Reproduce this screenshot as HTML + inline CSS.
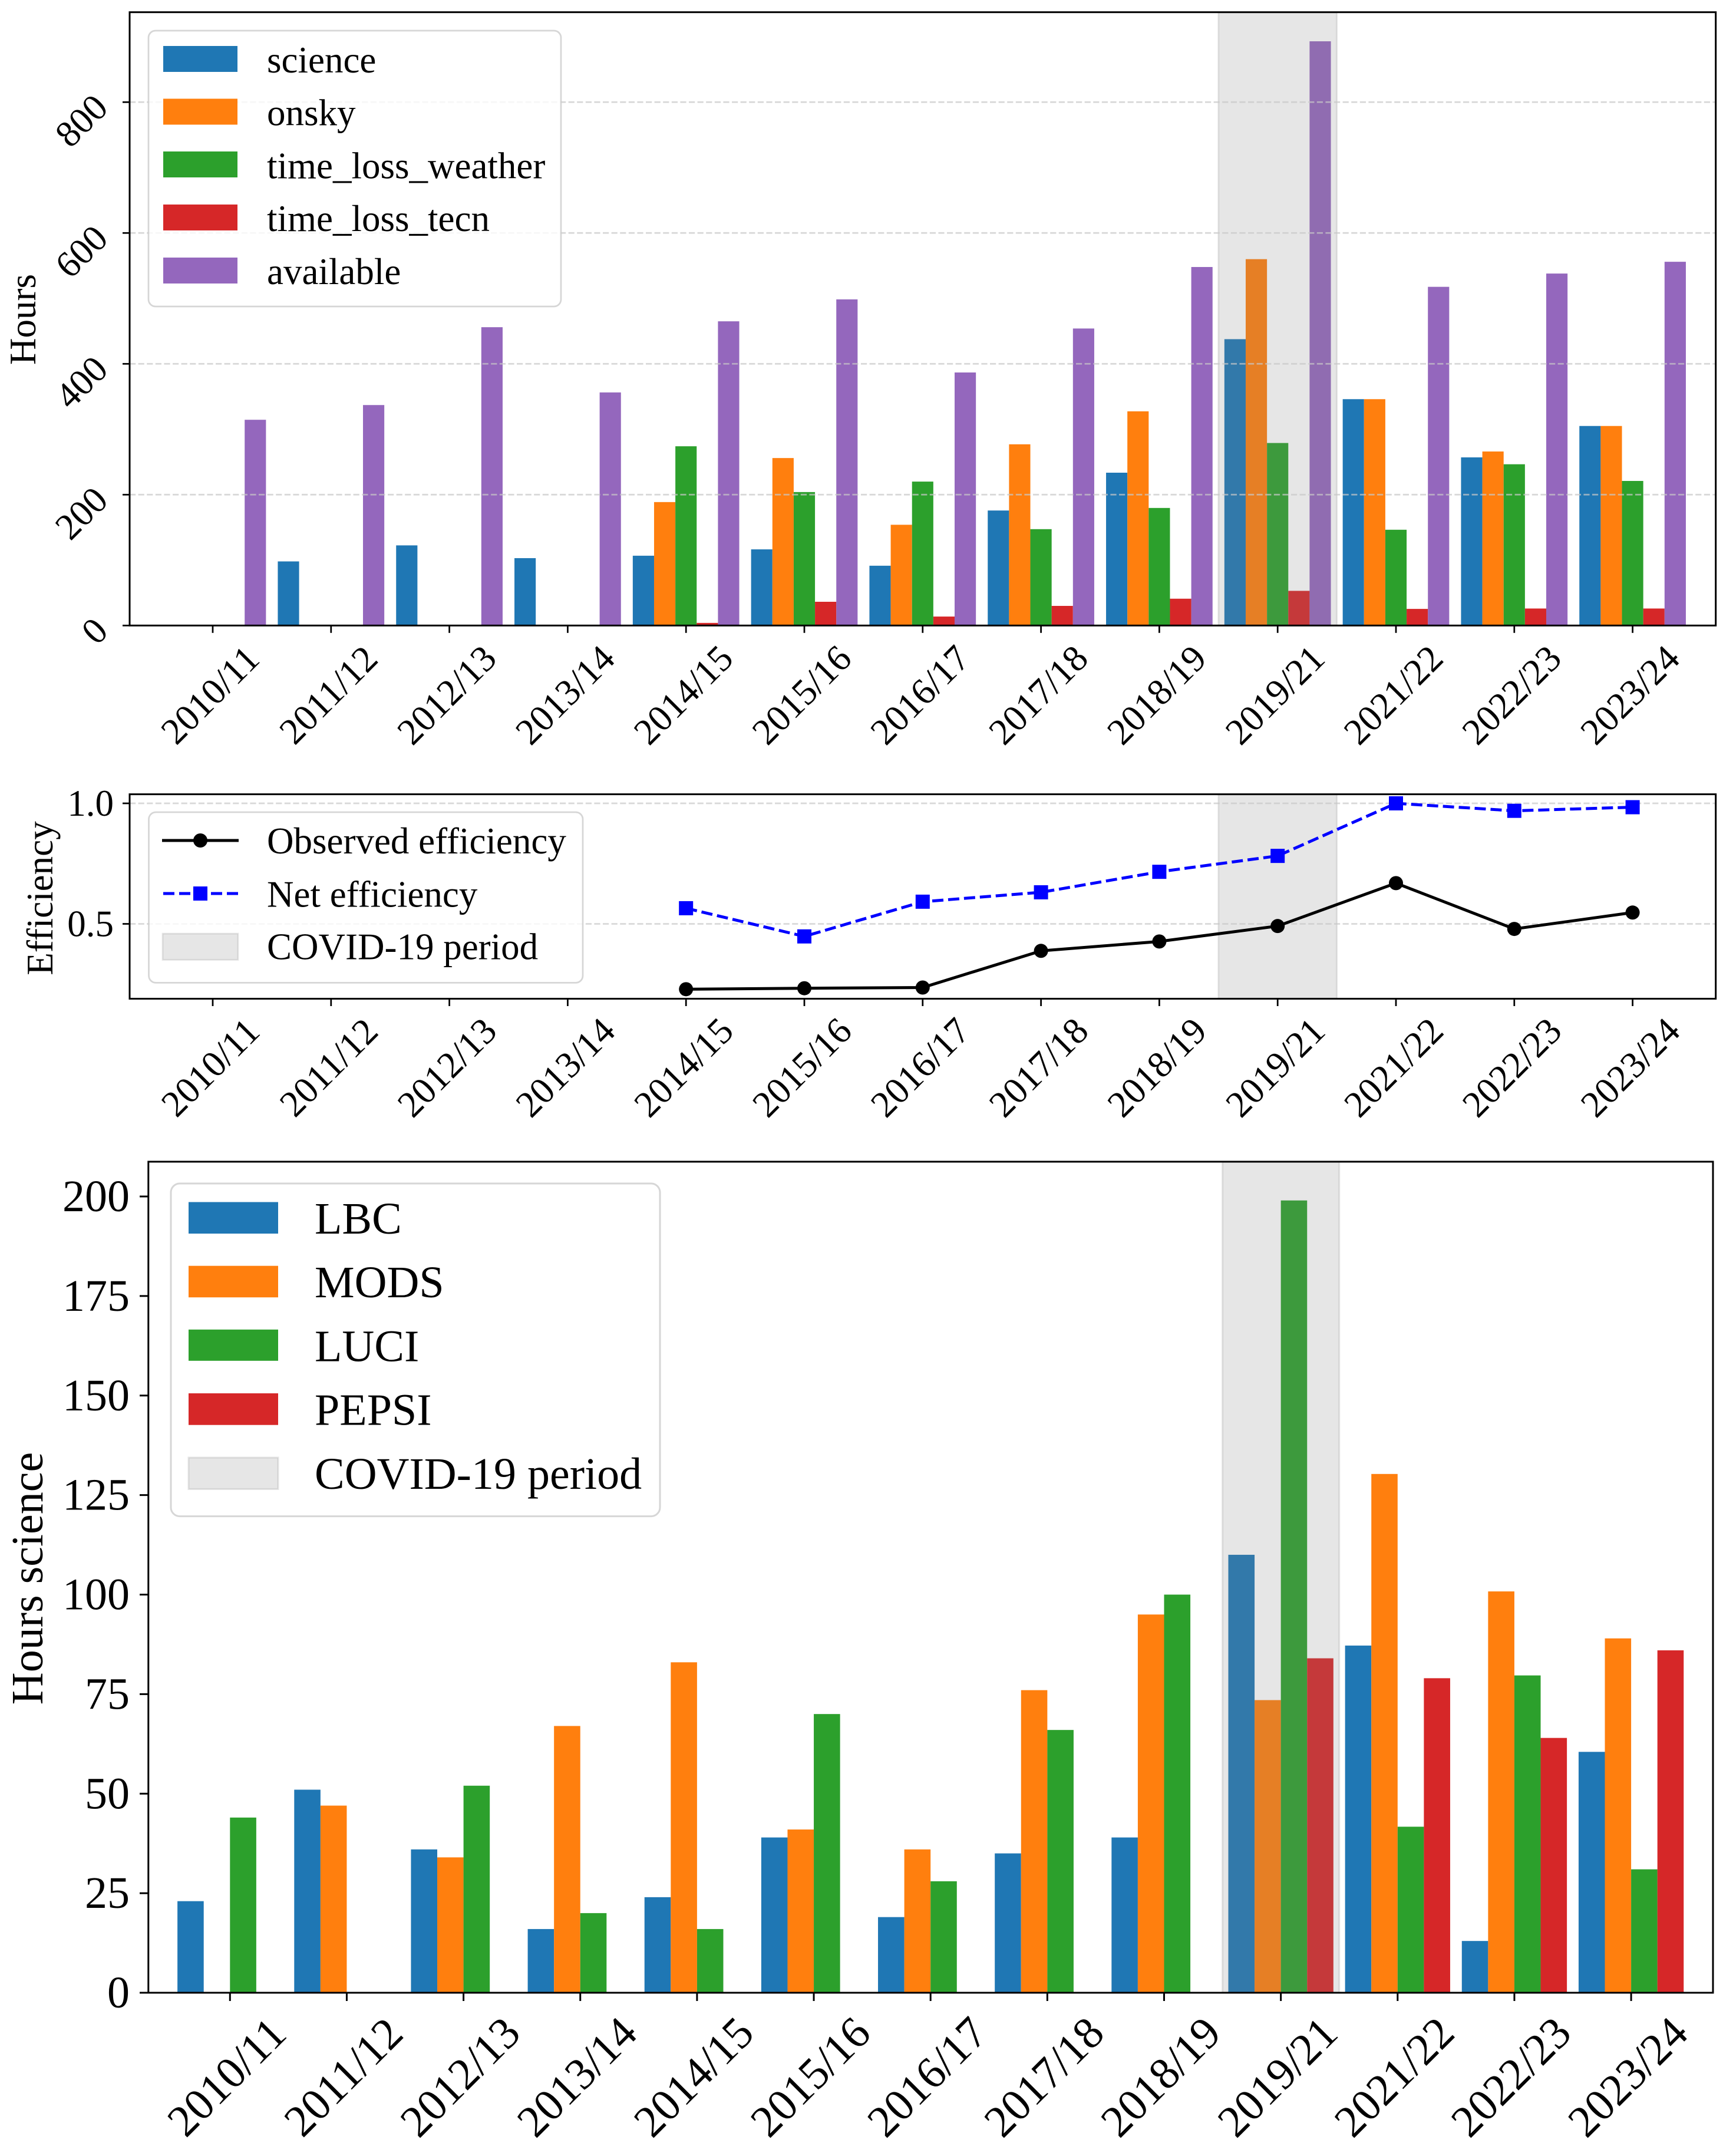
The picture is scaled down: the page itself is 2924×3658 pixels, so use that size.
<!DOCTYPE html>
<html lang="en">
<head>
<meta charset="utf-8">
<title>Telescope hours and efficiency per semester</title>
<style>
html,body{margin:0;padding:0;background:#fff;}
svg{display:block;}
text{font-family:"Liberation Serif",serif;fill:#000;}
.f63{font-size:63px;}
.f76{font-size:76px;}
</style>
</head>
<body>
<svg id="figure" xmlns="http://www.w3.org/2000/svg" width="2924" height="3658" viewBox="0 0 2924 3658">
  <rect x="0" y="0" width="2924" height="3658" fill="#fff"/>

  <!-- PANEL 1 -->
  <g>
    <g id="p1-bars"></g>
    <g id="p1-band"></g>
    <g id="p1-grid"></g>
    <rect x="220" y="20.7" width="2691.7" height="1040.6" fill="none" stroke="#000" stroke-width="3"/>
    <g id="p1-axes"></g>
    <text class="f63" transform="translate(60,542) rotate(-90)" text-anchor="middle">Hours</text>
    <g>
      <rect x="252" y="52" width="700" height="468" rx="12" ry="12" fill="#fff" fill-opacity="0.8" stroke="#ccc" stroke-opacity="0.8" stroke-width="2.75"/>
      <rect x="277" y="78" width="126" height="44" fill="#1f77b4"/>
      <text class="f63" x="453" y="123">science</text>
      <rect x="277" y="167.5" width="126" height="44" fill="#ff7f0e"/>
      <text class="f63" x="453" y="212.7">onsky</text>
      <rect x="277" y="257" width="126" height="44" fill="#2ca02c"/>
      <text class="f63" x="453" y="302.4">time_loss_weather</text>
      <rect x="277" y="347" width="126" height="44" fill="#d62728"/>
      <text class="f63" x="453" y="392.1">time_loss_tecn</text>
      <rect x="277" y="437" width="126" height="44" fill="#9467bd"/>
      <text class="f63" x="453" y="481.8">available</text>
    </g>
  </g>

  <!-- PANEL 2 -->
  <g>
    <g id="p2-band"></g>
    <g id="p2-grid"></g>
    <g id="p2-lines"></g>
    <rect x="220" y="1347.6" width="2691.7" height="346.9" fill="none" stroke="#000" stroke-width="3"/>
    <g id="p2-axes"></g>
    <text class="f63" transform="translate(89,1524) rotate(-90)" text-anchor="middle">Efficiency</text>
    <g>
      <rect x="252.5" y="1378" width="736.5" height="289.4" rx="12" ry="12" fill="#fff" fill-opacity="0.8" stroke="#ccc" stroke-opacity="0.8" stroke-width="2.75"/>
      <line x1="275" y1="1426" x2="405" y2="1426" stroke="#000" stroke-width="5"/>
      <circle cx="340" cy="1426" r="12" fill="#000"/>
      <text class="f63" x="453" y="1448">Observed efficiency</text>
      <line x1="277" y1="1516" x2="404" y2="1516" stroke="#0000ff" stroke-width="5" stroke-dasharray="19 8"/>
      <rect x="328" y="1504" width="24" height="24" fill="#0000ff"/>
      <text class="f63" x="453" y="1538.5">Net efficiency</text>
      <rect x="276" y="1584" width="128" height="44.5" fill="#808080" fill-opacity="0.2" stroke="#808080" stroke-opacity="0.2" stroke-width="2.75"/>
      <text class="f63" x="453" y="1627.5">COVID-19 period</text>
    </g>
  </g>

  <!-- PANEL 3 -->
  <g>
    <g id="p3-bars"></g>
    <g id="p3-band"></g>
    <rect x="251.8" y="1971" width="2655.2" height="1410" fill="none" stroke="#000" stroke-width="3"/>
    <g id="p3-axes"></g>
    <text class="f76" transform="translate(72,2678) rotate(-90)" text-anchor="middle">Hours science</text>
    <g>
      <rect x="290" y="2008" width="830" height="564.6" rx="15" ry="15" fill="#fff" fill-opacity="0.8" stroke="#ccc" stroke-opacity="0.8" stroke-width="3"/>
      <rect x="320" y="2039.5" width="152" height="53.5" fill="#1f77b4"/>
      <text class="f76" x="534" y="2093">LBC</text>
      <rect x="320" y="2147.7" width="152" height="53.5" fill="#ff7f0e"/>
      <text class="f76" x="534" y="2201">MODS</text>
      <rect x="320" y="2255.8" width="152" height="53" fill="#2ca02c"/>
      <text class="f76" x="534" y="2309.3">LUCI</text>
      <rect x="320" y="2364" width="152" height="53.7" fill="#d62728"/>
      <text class="f76" x="534" y="2417.6">PEPSI</text>
      <rect x="320" y="2473" width="152" height="53.5" fill="#808080" fill-opacity="0.2" stroke="#808080" stroke-opacity="0.2" stroke-width="3"/>
      <text class="f76" x="534" y="2526">COVID-19 period</text>
    </g>
  </g>
</svg>

<script>
const categories = ["2010/11","2011/12","2012/13","2013/14","2014/15","2015/16","2016/17","2017/18","2018/19","2019/21","2021/22","2022/23","2023/24"];
const covidCategory = "2019/21";

const science         = [0, 98, 122.5, 103, 106.7, 116.4, 91.4, 175.8, 233.6, 437.7, 346, 257, 305];
const onsky           = [0, 0, 0, 0, 188.7, 256, 154, 277, 327.4, 560, 346, 266, 305];
const timeLossWeather = [0, 0, 0, 0, 274, 204, 220, 147.3, 179.7, 279, 146.4, 246.5, 221];
const timeLossTecn    = [0, 0, 0, 0, 4, 36.3, 13.7, 30, 41, 53, 25.4, 26, 26];
const available       = [314.5, 337, 456, 356.3, 465, 498.5, 386.8, 454, 548, 893, 517.7, 538, 556];
const hoursTicks      = [0, 200, 400, 600, 800];

const observedEfficiency = [null, null, null, null, 0.229, 0.233, 0.236, 0.388, 0.427, 0.491, 0.669, 0.479, 0.547];
const netEfficiency      = [null, null, null, null, 0.565, 0.448, 0.592, 0.631, 0.716, 0.782, 1.0, 0.969, 0.984];
const efficiencyTicks    = ["0.5", "1.0"];

const lbc   = [23, 51, 36, 16, 24, 39, 19, 35, 39, 110, 87.2, 13, 60.5];
const mods  = [0, 47, 34, 67, 83, 41, 36, 76, 95, 73.5, 130.3, 100.8, 89];
const luci  = [44, 0, 52, 20, 16, 70, 28, 66, 100, 199, 41.7, 79.7, 31];
const pepsi = [0, 0, 0, 0, 0, 0, 0, 0, 0, 84, 79, 64, 86];
const scienceTicks = [0, 25, 50, 75, 100, 125, 150, 175, 200];

const NS = "http://www.w3.org/2000/svg";
function mk(tag, attrs, parent) {
  const el = document.createElementNS(NS, tag);
  for (const k in attrs) el.setAttribute(k, attrs[k]);
  parent.appendChild(el);
  return el;
}
const $ = id => document.getElementById(id);
const slug = s => s.replace("/", "-");

/* axis functions */
const x1 = i => 361 + 200.8 * i;
const y1 = v => 1061.3 - 1.11 * v;
const x2 = i => 361 + 200.8 * i;
const y2 = v => 1363 + (1 - v) * 409;
const x3 = i => 390.3 + 198.15 * i;
const y3 = v => 3381 - 6.755 * v;

const tab = {blue:"#1f77b4", orange:"#ff7f0e", green:"#2ca02c", red:"#d62728", purple:"#9467bd"};
const covidIndex = categories.indexOf(covidCategory);

/* panel 1 bars */
const hoursSeries = [
  ["science", science, tab.blue],
  ["onsky", onsky, tab.orange],
  ["time-loss-weather", timeLossWeather, tab.green],
  ["time-loss-tecn", timeLossTecn, tab.red],
  ["available", available, tab.purple]
];
const barW1 = 200.8 * 0.18;
hoursSeries.forEach(function (s, j) {
  s[1].forEach(function (v, i) {
    if (!v) return;
    const r = mk("rect", {x: x1(i) + (j - 2.5) * barW1, y: y1(v), width: barW1, height: y1(0) - y1(v), fill: s[2]}, $("p1-bars"));
    
    
  });
});

/* panel 3 bars */
const instrumentSeries = [
  ["lbc", lbc, tab.blue],
  ["mods", mods, tab.orange],
  ["luci", luci, tab.green],
  ["pepsi", pepsi, tab.red]
];
const barW3 = 198.15 * 0.225;
instrumentSeries.forEach(function (s, j) {
  s[1].forEach(function (v, i) {
    if (!v) return;
    const r = mk("rect", {x: x3(i) + (j - 2) * barW3, y: y3(v), width: barW3, height: y3(0) - y3(v), fill: s[2]}, $("p3-bars"));
    
    
  });
});

/* covid bands */
function band(parent, xf, step, top, bottom, sw) {
  const r = mk("rect", {x: xf(covidIndex) - step / 2, y: top, width: step, height: bottom - top, fill: "#808080", "fill-opacity": 0.2, stroke: "#808080", "stroke-opacity": 0.2, "stroke-width": sw}, parent);
  
  
}
band($("p1-band"), x1, 200.8, 20.7, 1061.3, 2.75);
band($("p2-band"), x2, 200.8, 1347.6, 1694.5, 2.75);
band($("p3-band"), x3, 198.15, 1971, 3381, 3);

/* grid lines */
function gridLine(parent, y) {
  const l = mk("line", {x1: 220, x2: 2911.7, y1: y, y2: y, stroke: "#c8c8c8", "stroke-opacity": 0.7, "stroke-width": 2.75, "stroke-dasharray": "10.2 4.4"}, parent);
  
  
}
hoursTicks.forEach(function (t) { if (t > 0) gridLine($("p1-grid"), y1(t)); });
efficiencyTicks.forEach(function (t) { gridLine($("p2-grid"), y2(parseFloat(t))); });

/* tick helpers */
function tickMark(parent, a, b, c, d, sw) {
  const l = mk("line", {x1: a, y1: b, x2: c, y2: d, stroke: "#000", "stroke-width": sw}, parent);
  
  
}
function xLabels(parent, xf, dx, yBase, yc, tickLen, cls, sw) {
  categories.forEach(function (c, i) {
    tickMark(parent, xf(i), yBase, xf(i), yBase + tickLen, sw);
    const t = mk("text", {"class": cls, "text-anchor": "middle", "dominant-baseline": "central", transform: "translate(" + (xf(i) + dx) + "," + yc + ") rotate(-45)"}, parent);
    t.textContent = c;
    
    
  });
}
xLabels($("p1-axes"), x1, -4.5, 1061.3, 1179, 12.5, "f63", 2.75);
xLabels($("p2-axes"), x2, -4, 1694.5, 1811, 12.5, "f63", 2.75);
xLabels($("p3-axes"), x3, -5.5, 3381, 3524, 14, "f76", 3);

/* panel 1 y ticks: rotated labels */
hoursTicks.forEach(function (t) {
  tickMark($("p1-axes"), 208, y1(t), 220, y1(t), 2.75);
  const lab = mk("text", {"class": "f63", "text-anchor": "end", "dominant-baseline": "central", transform: "translate(171.5," + (y1(t) - 2) + ") rotate(-45)"}, $("p1-axes"));
  lab.textContent = String(t);
  
  
});

/* panel 2 y ticks */
efficiencyTicks.forEach(function (t) {
  const y = y2(parseFloat(t));
  tickMark($("p2-axes"), 208, y, 220, y, 2.75);
  const lab = mk("text", {"class": "f63", "text-anchor": "end", "dominant-baseline": "central", x: 193, y: y}, $("p2-axes"));
  lab.textContent = t;
  
  
});

/* panel 3 y ticks */
scienceTicks.forEach(function (t) {
  tickMark($("p3-axes"), 237, y3(t), 252, y3(t), 3);
  const lab = mk("text", {"class": "f76", "text-anchor": "end", "dominant-baseline": "central", x: 220, y: y3(t)}, $("p3-axes"));
  lab.textContent = String(t);
  
  
});

/* panel 2 lines */
function polyPoints(values) {
  const pts = [];
  values.forEach(function (v, i) { if (v !== null) pts.push(x2(i) + "," + y2(v)); });
  return pts.join(" ");
}
const obsLine = mk("polyline", {points: polyPoints(observedEfficiency), fill: "none", stroke: "#000", "stroke-width": 5}, $("p2-lines"));


observedEfficiency.forEach(function (v, i) {
  if (v === null) return;
  const c = mk("circle", {cx: x2(i), cy: y2(v), r: 12, fill: "#000"}, $("p2-lines"));
  
  
});
const netLine = mk("polyline", {points: polyPoints(netEfficiency), fill: "none", stroke: "#0000ff", "stroke-width": 5, "stroke-dasharray": "19 8"}, $("p2-lines"));


netEfficiency.forEach(function (v, i) {
  if (v === null) return;
  const r = mk("rect", {x: x2(i) - 12, y: y2(v) - 12, width: 24, height: 24, fill: "#0000ff"}, $("p2-lines"));
  
  
});
</script>
</body>
</html>
